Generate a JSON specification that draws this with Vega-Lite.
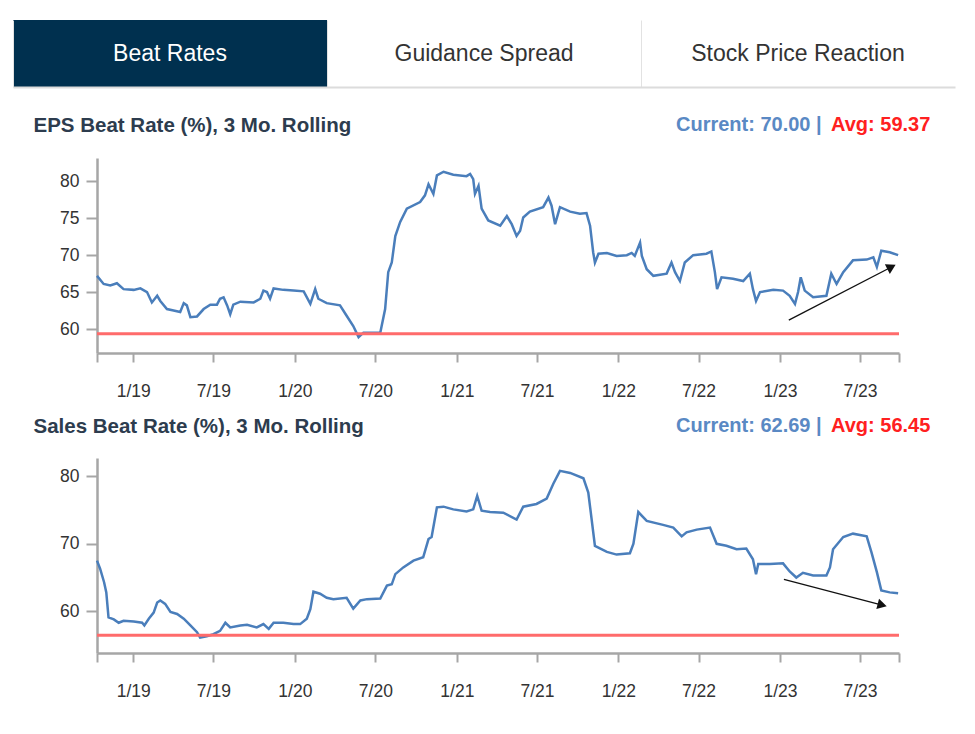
{
  "$schema": "https://vega.github.io/schema/vega-lite/v6.json",
  "background": "white",
  "padding": {"left": 13, "top": 20, "right": 10, "bottom": 10},
  "spacing": 16,
  "config": {
    "view": {"stroke": null},
    "font": "Liberation Sans",
    "axis": {
      "labelFont": "Liberation Sans",
      "labelFontSize": 17.5,
      "labelColor": "#333333",
      "domainColor": "#a6a6a6",
      "domainWidth": 2.5,
      "tickColor": "#a6a6a6",
      "tickWidth": 2,
      "grid": false
    }
  },
  "resolve": {
    "scale": {"x": "independent", "y": "independent", "color": "independent", "fill": "independent"},
    "legend": {"color": "independent", "fill": "independent"}
  },
  "datasets": {
    "tabs": [
      {"tab": "Beat Rates", "state": "selected"},
      {"tab": "Guidance Spread", "state": "unselected"},
      {"tab": "Stock Price Reaction", "state": "unselected"}
    ],
    "eps": [
      {"date": "2018-10-11", "rate": 67.2}, {"date": "2018-10-26", "rate": 66.1}, {"date": "2018-11-10", "rate": 65.9},
      {"date": "2018-11-25", "rate": 66.2}, {"date": "2018-12-10", "rate": 65.4}, {"date": "2019-01-02", "rate": 65.3},
      {"date": "2019-01-17", "rate": 65.5}, {"date": "2019-02-01", "rate": 65.0}, {"date": "2019-02-12", "rate": 63.6},
      {"date": "2019-02-24", "rate": 64.5}, {"date": "2019-03-03", "rate": 63.8}, {"date": "2019-03-18", "rate": 62.7},
      {"date": "2019-04-02", "rate": 62.5}, {"date": "2019-04-17", "rate": 62.3}, {"date": "2019-04-25", "rate": 63.5},
      {"date": "2019-05-02", "rate": 63.2}, {"date": "2019-05-10", "rate": 61.6}, {"date": "2019-05-25", "rate": 61.7},
      {"date": "2019-06-09", "rate": 62.7}, {"date": "2019-06-24", "rate": 63.3}, {"date": "2019-07-09", "rate": 63.3},
      {"date": "2019-07-16", "rate": 64.1}, {"date": "2019-07-24", "rate": 64.3}, {"date": "2019-08-01", "rate": 63.2},
      {"date": "2019-08-08", "rate": 62.0}, {"date": "2019-08-15", "rate": 63.3}, {"date": "2019-08-31", "rate": 63.7},
      {"date": "2019-09-30", "rate": 63.6}, {"date": "2019-10-15", "rate": 64.1}, {"date": "2019-10-22", "rate": 65.2},
      {"date": "2019-10-30", "rate": 65.0}, {"date": "2019-11-06", "rate": 64.1}, {"date": "2019-11-14", "rate": 65.5},
      {"date": "2019-12-06", "rate": 65.3}, {"date": "2019-12-29", "rate": 65.2}, {"date": "2020-01-21", "rate": 65.1},
      {"date": "2020-02-05", "rate": 63.4}, {"date": "2020-02-16", "rate": 65.4}, {"date": "2020-02-23", "rate": 64.1},
      {"date": "2020-03-13", "rate": 63.5}, {"date": "2020-04-12", "rate": 63.2}, {"date": "2020-04-27", "rate": 61.8},
      {"date": "2020-05-12", "rate": 60.4}, {"date": "2020-05-24", "rate": 58.9}, {"date": "2020-06-04", "rate": 59.5},
      {"date": "2020-07-12", "rate": 59.5}, {"date": "2020-07-23", "rate": 62.7}, {"date": "2020-07-30", "rate": 67.7},
      {"date": "2020-08-07", "rate": 69.0}, {"date": "2020-08-15", "rate": 72.6}, {"date": "2020-08-26", "rate": 74.5},
      {"date": "2020-09-10", "rate": 76.3}, {"date": "2020-10-10", "rate": 77.2}, {"date": "2020-10-21", "rate": 78.1},
      {"date": "2020-10-29", "rate": 79.6}, {"date": "2020-11-09", "rate": 78.3}, {"date": "2020-11-17", "rate": 80.8},
      {"date": "2020-12-02", "rate": 81.3}, {"date": "2020-12-24", "rate": 80.9}, {"date": "2021-01-23", "rate": 80.7},
      {"date": "2021-01-31", "rate": 81.0}, {"date": "2021-02-07", "rate": 80.3}, {"date": "2021-02-11", "rate": 78.3},
      {"date": "2021-02-19", "rate": 79.4}, {"date": "2021-02-26", "rate": 76.3}, {"date": "2021-03-13", "rate": 74.7},
      {"date": "2021-04-09", "rate": 74.0}, {"date": "2021-04-24", "rate": 75.3}, {"date": "2021-05-05", "rate": 74.2},
      {"date": "2021-05-16", "rate": 72.6}, {"date": "2021-05-24", "rate": 73.3}, {"date": "2021-05-31", "rate": 75.1},
      {"date": "2021-06-15", "rate": 75.9}, {"date": "2021-07-15", "rate": 76.5}, {"date": "2021-07-27", "rate": 77.8},
      {"date": "2021-08-03", "rate": 76.7}, {"date": "2021-08-11", "rate": 74.2}, {"date": "2021-08-22", "rate": 76.5},
      {"date": "2021-09-14", "rate": 75.9}, {"date": "2021-10-06", "rate": 75.6}, {"date": "2021-10-21", "rate": 75.7},
      {"date": "2021-10-29", "rate": 74.0}, {"date": "2021-11-05", "rate": 70.4}, {"date": "2021-11-09", "rate": 69.0},
      {"date": "2021-11-17", "rate": 70.2}, {"date": "2021-12-06", "rate": 70.3}, {"date": "2021-12-28", "rate": 69.9},
      {"date": "2022-01-20", "rate": 70.0}, {"date": "2022-01-31", "rate": 70.3}, {"date": "2022-02-07", "rate": 69.9},
      {"date": "2022-02-19", "rate": 71.7}, {"date": "2022-02-23", "rate": 69.9}, {"date": "2022-03-06", "rate": 68.1},
      {"date": "2022-03-21", "rate": 67.2}, {"date": "2022-04-20", "rate": 67.5}, {"date": "2022-05-01", "rate": 69.0},
      {"date": "2022-05-09", "rate": 67.7}, {"date": "2022-05-20", "rate": 66.5}, {"date": "2022-05-31", "rate": 69.0},
      {"date": "2022-06-19", "rate": 70.0}, {"date": "2022-07-19", "rate": 70.2}, {"date": "2022-07-30", "rate": 70.5},
      {"date": "2022-08-07", "rate": 67.7}, {"date": "2022-08-12", "rate": 65.4}, {"date": "2022-08-22", "rate": 67.0},
      {"date": "2022-09-17", "rate": 66.8}, {"date": "2022-10-10", "rate": 66.5}, {"date": "2022-10-25", "rate": 67.5},
      {"date": "2022-11-01", "rate": 65.4}, {"date": "2022-11-08", "rate": 63.8}, {"date": "2022-11-17", "rate": 65.0},
      {"date": "2022-12-17", "rate": 65.3}, {"date": "2023-01-08", "rate": 65.2}, {"date": "2023-01-23", "rate": 64.5},
      {"date": "2023-02-04", "rate": 63.4}, {"date": "2023-02-11", "rate": 65.0}, {"date": "2023-02-17", "rate": 67.0},
      {"date": "2023-02-26", "rate": 65.2}, {"date": "2023-03-17", "rate": 64.3}, {"date": "2023-04-16", "rate": 64.5},
      {"date": "2023-04-27", "rate": 67.5}, {"date": "2023-05-09", "rate": 66.1}, {"date": "2023-05-24", "rate": 67.7},
      {"date": "2023-06-15", "rate": 69.3}, {"date": "2023-07-16", "rate": 69.4}, {"date": "2023-07-31", "rate": 69.7},
      {"date": "2023-08-08", "rate": 68.4}, {"date": "2023-08-18", "rate": 70.6}, {"date": "2023-09-06", "rate": 70.4},
      {"date": "2023-09-25", "rate": 70.0}
    ],
    "eps_avg": [{"rate": 59.37, "label": "Avg: 59.37"}],
    "eps_arrow": [{"date": "2023-01-21", "rate": 61.2, "date_end": "2023-09-10", "rate_end": 68.4}],
    "sales": [
      {"date": "2018-10-11", "rate": 67.5}, {"date": "2018-10-18", "rate": 66.3}, {"date": "2018-10-27", "rate": 64.3},
      {"date": "2018-11-01", "rate": 62.8}, {"date": "2018-11-06", "rate": 59.1}, {"date": "2018-11-18", "rate": 58.8},
      {"date": "2018-11-29", "rate": 58.3}, {"date": "2018-12-10", "rate": 58.6}, {"date": "2019-01-02", "rate": 58.5},
      {"date": "2019-01-21", "rate": 58.3}, {"date": "2019-01-26", "rate": 57.9}, {"date": "2019-02-05", "rate": 58.9},
      {"date": "2019-02-16", "rate": 59.8}, {"date": "2019-02-24", "rate": 61.3}, {"date": "2019-03-03", "rate": 61.6},
      {"date": "2019-03-14", "rate": 61.1}, {"date": "2019-03-26", "rate": 59.9}, {"date": "2019-04-10", "rate": 59.6},
      {"date": "2019-04-25", "rate": 58.9}, {"date": "2019-05-10", "rate": 57.9}, {"date": "2019-05-25", "rate": 56.9},
      {"date": "2019-06-01", "rate": 56.1}, {"date": "2019-06-16", "rate": 56.3}, {"date": "2019-07-01", "rate": 56.6},
      {"date": "2019-07-16", "rate": 57.1}, {"date": "2019-07-28", "rate": 58.3}, {"date": "2019-08-08", "rate": 57.6},
      {"date": "2019-08-31", "rate": 57.9}, {"date": "2019-09-15", "rate": 58.0}, {"date": "2019-10-07", "rate": 57.6},
      {"date": "2019-10-22", "rate": 58.1}, {"date": "2019-11-03", "rate": 57.4}, {"date": "2019-11-14", "rate": 58.3},
      {"date": "2019-12-06", "rate": 58.3}, {"date": "2019-12-29", "rate": 58.1}, {"date": "2020-01-13", "rate": 58.1},
      {"date": "2020-01-28", "rate": 58.9}, {"date": "2020-02-05", "rate": 60.3}, {"date": "2020-02-12", "rate": 62.9},
      {"date": "2020-02-27", "rate": 62.6}, {"date": "2020-03-13", "rate": 62.0}, {"date": "2020-03-28", "rate": 61.8},
      {"date": "2020-04-27", "rate": 62.0}, {"date": "2020-05-12", "rate": 60.4}, {"date": "2020-05-28", "rate": 61.6},
      {"date": "2020-06-12", "rate": 61.8}, {"date": "2020-07-12", "rate": 61.9}, {"date": "2020-07-27", "rate": 63.8},
      {"date": "2020-08-07", "rate": 64.0}, {"date": "2020-08-15", "rate": 65.5}, {"date": "2020-09-02", "rate": 66.5},
      {"date": "2020-09-25", "rate": 67.5}, {"date": "2020-10-17", "rate": 68.0}, {"date": "2020-10-29", "rate": 70.7},
      {"date": "2020-11-05", "rate": 71.0}, {"date": "2020-11-17", "rate": 75.4}, {"date": "2020-12-02", "rate": 75.5},
      {"date": "2020-12-24", "rate": 75.1}, {"date": "2021-01-23", "rate": 74.8}, {"date": "2021-02-07", "rate": 75.1},
      {"date": "2021-02-16", "rate": 77.1}, {"date": "2021-02-26", "rate": 74.9}, {"date": "2021-03-17", "rate": 74.7},
      {"date": "2021-04-16", "rate": 74.6}, {"date": "2021-05-16", "rate": 73.6}, {"date": "2021-05-31", "rate": 75.5},
      {"date": "2021-06-30", "rate": 75.9}, {"date": "2021-07-23", "rate": 76.7}, {"date": "2021-08-07", "rate": 78.9},
      {"date": "2021-08-22", "rate": 80.8}, {"date": "2021-09-14", "rate": 80.5}, {"date": "2021-10-14", "rate": 79.7},
      {"date": "2021-10-25", "rate": 77.6}, {"date": "2021-11-09", "rate": 69.7}, {"date": "2021-12-06", "rate": 68.8},
      {"date": "2021-12-28", "rate": 68.4}, {"date": "2022-01-27", "rate": 68.6}, {"date": "2022-02-04", "rate": 70.0},
      {"date": "2022-02-15", "rate": 74.7}, {"date": "2022-03-06", "rate": 73.4}, {"date": "2022-04-12", "rate": 72.8},
      {"date": "2022-05-05", "rate": 72.4}, {"date": "2022-05-24", "rate": 71.1}, {"date": "2022-06-04", "rate": 71.7},
      {"date": "2022-06-27", "rate": 72.1}, {"date": "2022-07-27", "rate": 72.4}, {"date": "2022-08-11", "rate": 70.0},
      {"date": "2022-09-02", "rate": 69.7}, {"date": "2022-09-25", "rate": 69.2}, {"date": "2022-10-17", "rate": 69.3},
      {"date": "2022-11-01", "rate": 67.7}, {"date": "2022-11-08", "rate": 65.5}, {"date": "2022-11-13", "rate": 67.0},
      {"date": "2022-12-09", "rate": 67.0}, {"date": "2023-01-08", "rate": 67.1}, {"date": "2023-01-23", "rate": 65.9},
      {"date": "2023-02-07", "rate": 65.0}, {"date": "2023-02-22", "rate": 65.7}, {"date": "2023-03-17", "rate": 65.3},
      {"date": "2023-04-16", "rate": 65.3}, {"date": "2023-04-24", "rate": 66.5}, {"date": "2023-05-01", "rate": 69.2},
      {"date": "2023-05-24", "rate": 71.0}, {"date": "2023-06-15", "rate": 71.5}, {"date": "2023-07-16", "rate": 71.1},
      {"date": "2023-07-27", "rate": 68.7}, {"date": "2023-08-08", "rate": 65.8}, {"date": "2023-08-18", "rate": 63.1},
      {"date": "2023-09-06", "rate": 62.8}, {"date": "2023-09-25", "rate": 62.69}
    ],
    "sales_avg": [{"rate": 56.45, "label": "Avg: 56.45"}],
    "sales_arrow": [{"date": "2023-01-10", "rate": 64.74, "date_end": "2023-08-20", "rate_end": 60.93}]
  },
  "vconcat": [
    {
      "width": 802,
      "height": 67,
      "data": {"name": "tabs"},
      "layer": [
        {
          "mark": {"type": "rect"},
          "encoding": {
            "x": {
              "field": "tab", "type": "nominal", "sort": null,
              "scale": {"range": [-84, 858], "paddingInner": 0, "paddingOuter": 0},
              "axis": {
                "orient": "bottom", "title": null, "labels": false, "ticks": false,
                "domain": true, "domainColor": "#dcdcdc", "domainWidth": 2,
                "grid": true, "gridColor": "#e2e2e2", "gridWidth": 1, "bandPosition": 0
              }
            },
            "fill": {
              "field": "state", "type": "nominal",
              "scale": {"domain": ["selected", "unselected"], "range": ["#00304f", "transparent"]},
              "legend": null
            }
          }
        },
        {
          "mark": {"type": "text", "fontSize": 23, "font": "Liberation Sans"},
          "encoding": {
            "x": {"field": "tab", "type": "nominal", "sort": null},
            "text": {"field": "tab"},
            "color": {
              "field": "state", "type": "nominal",
              "scale": {"domain": ["selected", "unselected"], "range": ["#ffffff", "#333333"]},
              "legend": null
            }
          }
        }
      ]
    },
    {
      "width": 802,
      "height": 195,
      "layer": [
        {
          "data": {"name": "eps"},
          "mark": {"type": "line", "color": "#4a7ebb", "strokeWidth": 2.5},
          "encoding": {
            "x": {
              "field": "date", "type": "temporal",
              "scale": {"type": "utc", "domain": [{"year": 2018, "month": 10, "date": 11, "utc": true}, {"year": 2023, "month": 9, "date": 27, "utc": true}]},
              "axis": {
                "title": null, "tickSize": 9, "labelPadding": 20, "labelFlush": false, "labelOverlap": false,
                "values": [
                  {"year": 2018, "month": 10, "date": 11, "utc": true},
                  {"year": 2019, "month": 1, "date": 1, "utc": true}, {"year": 2019, "month": 7, "date": 1, "utc": true},
                  {"year": 2020, "month": 1, "date": 1, "utc": true}, {"year": 2020, "month": 7, "date": 1, "utc": true},
                  {"year": 2021, "month": 1, "date": 1, "utc": true}, {"year": 2021, "month": 7, "date": 1, "utc": true},
                  {"year": 2022, "month": 1, "date": 1, "utc": true}, {"year": 2022, "month": 7, "date": 1, "utc": true},
                  {"year": 2023, "month": 1, "date": 1, "utc": true}, {"year": 2023, "month": 7, "date": 1, "utc": true},
                  {"year": 2023, "month": 9, "date": 27, "utc": true}
                ],
                "labelExpr": "utcdate(datum.value) == 1 ? utcFormat(datum.value, '%-m/%y') : ''"
              }
            },
            "y": {
              "field": "rate", "type": "quantitative",
              "scale": {"domain": [56.75, 83.16], "nice": false, "zero": false},
              "axis": {
                "values": [60, 65, 70, 75, 80], "tickSize": 11, "labelPadding": 7,
                "title": "EPS Beat Rate (%), 3 Mo. Rolling",
                "titleAngle": 0, "titleAlign": "left", "titleBaseline": "alphabetic",
                "titleX": -64, "titleY": -26.5,
                "titleFont": "Liberation Sans", "titleFontSize": 20.5, "titleFontWeight": "bold",
                "titleColor": "#2d3c4e", "titleLimit": 600
              }
            }
          }
        },
        {
          "data": {"name": "eps_avg"},
          "mark": {"type": "rule", "strokeWidth": 3},
          "encoding": {
            "y": {"field": "rate", "type": "quantitative"},
            "color": {
              "field": "label", "type": "nominal",
              "scale": {"range": ["#ff6b6b"]},
              "legend": {
                "orient": "none", "legendX": 567, "legendY": -54.7, "padding": 12,
                "title": "Current: 70.00 |", "titleOrient": "left",
                "titleAnchor": "middle", "titleBaseline": "middle",
                "titleFont": "Liberation Sans", "titleFontSize": 20, "titleFontWeight": "bold",
                "titleColor": "#5a89c4", "titlePadding": 10, "titleLimit": 400,
                "labelFont": "Liberation Sans", "labelFontSize": 20, "labelFontWeight": "bold",
                "labelColor": "#ff2020", "labelLimit": 300, "labelOffset": -21,
                "symbolSize": 0, "symbolOpacity": 0, "symbolStrokeWidth": 0
              }
            }
          }
        },
        {
          "data": {"name": "eps_arrow"},
          "mark": {"type": "rule", "color": "#111111", "strokeWidth": 1.3},
          "encoding": {
            "x": {"field": "date", "type": "temporal"},
            "y": {"field": "rate", "type": "quantitative"},
            "x2": {"field": "date_end"},
            "y2": {"field": "rate_end"}
          }
        },
        {
          "data": {"name": "eps_arrow"},
          "mark": {"type": "point", "shape": "triangle-up", "filled": true, "color": "#111111", "opacity": 1, "size": 115, "angle": 62.7},
          "encoding": {
            "x": {"field": "date_end", "type": "temporal"},
            "y": {"field": "rate_end", "type": "quantitative"}
          }
        }
      ]
    },
    {
      "width": 802,
      "height": 195,
      "layer": [
        {
          "data": {"name": "sales"},
          "mark": {"type": "line", "color": "#4a7ebb", "strokeWidth": 2.5},
          "encoding": {
            "x": {
              "field": "date", "type": "temporal",
              "scale": {"type": "utc", "domain": [{"year": 2018, "month": 10, "date": 11, "utc": true}, {"year": 2023, "month": 9, "date": 27, "utc": true}]},
              "axis": {
                "title": null, "tickSize": 9, "labelPadding": 20, "labelFlush": false, "labelOverlap": false,
                "values": [
                  {"year": 2018, "month": 10, "date": 11, "utc": true},
                  {"year": 2019, "month": 1, "date": 1, "utc": true}, {"year": 2019, "month": 7, "date": 1, "utc": true},
                  {"year": 2020, "month": 1, "date": 1, "utc": true}, {"year": 2020, "month": 7, "date": 1, "utc": true},
                  {"year": 2021, "month": 1, "date": 1, "utc": true}, {"year": 2021, "month": 7, "date": 1, "utc": true},
                  {"year": 2022, "month": 1, "date": 1, "utc": true}, {"year": 2022, "month": 7, "date": 1, "utc": true},
                  {"year": 2023, "month": 1, "date": 1, "utc": true}, {"year": 2023, "month": 7, "date": 1, "utc": true},
                  {"year": 2023, "month": 9, "date": 27, "utc": true}
                ],
                "labelExpr": "utcdate(datum.value) == 1 ? utcFormat(datum.value, '%-m/%y') : ''"
              }
            },
            "y": {
              "field": "rate", "type": "quantitative",
              "scale": {"domain": [53.82, 82.71], "nice": false, "zero": false},
              "axis": {
                "values": [60, 70, 80], "tickSize": 11, "labelPadding": 7,
                "title": "Sales Beat Rate (%), 3 Mo. Rolling",
                "titleAngle": 0, "titleAlign": "left", "titleBaseline": "alphabetic",
                "titleX": -64, "titleY": -26,
                "titleFont": "Liberation Sans", "titleFontSize": 20.5, "titleFontWeight": "bold",
                "titleColor": "#2d3c4e", "titleLimit": 600
              }
            }
          }
        },
        {
          "data": {"name": "sales_avg"},
          "mark": {"type": "rule", "strokeWidth": 3},
          "encoding": {
            "y": {"field": "rate", "type": "quantitative"},
            "color": {
              "field": "label", "type": "nominal",
              "scale": {"range": ["#ff6b6b"]},
              "legend": {
                "orient": "none", "legendX": 579, "legendY": -42, "padding": 0,
                "title": "Current: 62.69 |", "titleOrient": "left",
                "titleAnchor": "middle", "titleBaseline": "middle",
                "titleFont": "Liberation Sans", "titleFontSize": 20, "titleFontWeight": "bold",
                "titleColor": "#5a89c4", "titlePadding": 10, "titleLimit": 400,
                "labelFont": "Liberation Sans", "labelFontSize": 20, "labelFontWeight": "bold",
                "labelColor": "#ff2020", "labelLimit": 300, "labelOffset": -21,
                "symbolSize": 0, "symbolOpacity": 0, "symbolStrokeWidth": 0
              }
            }
          }
        },
        {
          "data": {"name": "sales_arrow"},
          "mark": {"type": "rule", "color": "#111111", "strokeWidth": 1.3},
          "encoding": {
            "x": {"field": "date", "type": "temporal"},
            "y": {"field": "rate", "type": "quantitative"},
            "x2": {"field": "date_end"},
            "y2": {"field": "rate_end"}
          }
        },
        {
          "data": {"name": "sales_arrow"},
          "mark": {"type": "point", "shape": "triangle-up", "filled": true, "color": "#111111", "opacity": 1, "size": 115, "angle": 104.7},
          "encoding": {
            "x": {"field": "date_end", "type": "temporal"},
            "y": {"field": "rate_end", "type": "quantitative"}
          }
        }
      ]
    }
  ]
}
